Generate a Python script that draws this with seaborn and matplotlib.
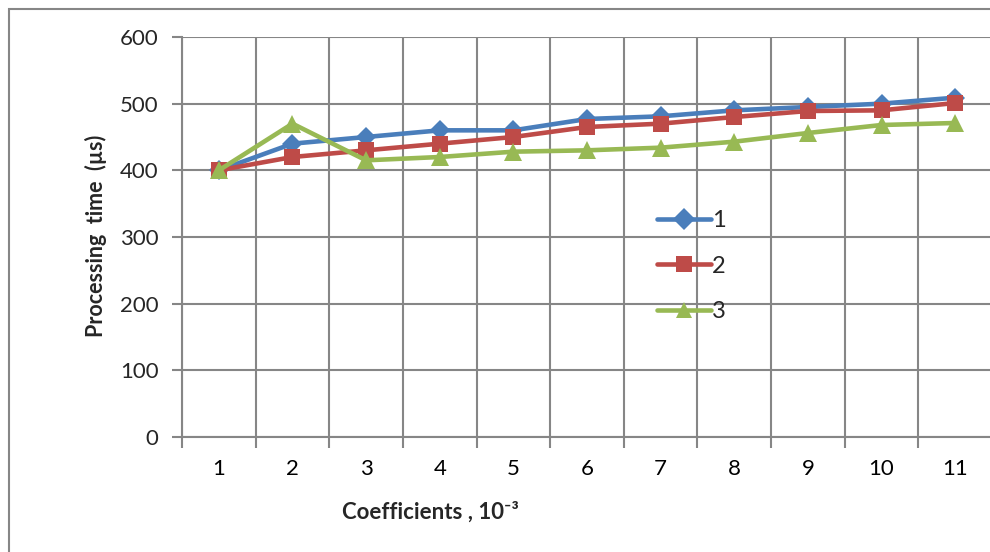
import matplotlib
matplotlib.use("Agg")
import matplotlib.pyplot as plt
import seaborn as sns
import pandas as pd
from matplotlib.patches import Rectangle

coefficients = [1, 2, 3, 4, 5, 6, 7, 8, 9, 10, 11]
series_1 = [400, 440, 450, 460, 460, 477, 481, 490, 495, 500, 509]
series_2 = [400, 420, 430, 440, 450, 465, 470, 480, 489, 490, 501]
series_3 = [400, 470, 415, 420, 428, 430, 434, 443, 456, 468, 471]
series_names = ["1", "2", "3"]
y_ticks = [0, 100, 200, 300, 400, 500, 600]

sns.set_theme(style="white")
plt.rcParams["font.family"] = ["Lato", "DejaVu Sans"]

rows = []
for name, vals in zip(series_names, [series_1, series_2, series_3]):
    for c, v in zip(coefficients, vals):
        rows.append({"coef": c, "time": v, "series": name})
df = pd.DataFrame(rows)

W, H = 990, 552
fig = plt.figure(figsize=(W / 100, H / 100), dpi=100)
fig.patch.set_facecolor("white")

# outer frame
fig.patches.append(Rectangle((9 / W, -0.1), 1.2, 1 - 9 / H + 0.1, transform=fig.transFigure,
                             fill=False, edgecolor="#868686", linewidth=1.5, zorder=0))

ax = fig.add_axes([182 / W, (H - 437) / H, 810 / W, 400 / H])
ax.set_facecolor("none")

palette = {"1": "#4A7EBB", "2": "#BE4B48", "3": "#98B954"}
markers = {"1": "D", "2": "s", "3": "^"}
sns.lineplot(data=df, x="coef", y="time", hue="series", style="series",
             markers=markers, dashes=False, palette=palette, ax=ax,
             linewidth=3.3, markersize=11, markeredgewidth=0, zorder=3)
for line, ms in zip(ax.get_lines()[:3], [10, 11, 13]):
    line.set_markersize(ms)

ax.set_xlim(0.5, 11.5)
ax.set_ylim(0, 600)
ax.set_xticks(coefficients)
ax.set_xticklabels([str(c) for c in coefficients])
ax.set_xticks([c + 0.5 for c in [0] + coefficients], minor=True)
ax.set_yticks(y_ticks)
ax.set_yticklabels([str(t) for t in y_ticks])

ax.tick_params(axis="x", which="major", length=0, labelsize=16, pad=16, colors="black")
ax.tick_params(axis="x", which="minor", length=8, width=1.5, color="#868686", direction="out", bottom=True)
ax.tick_params(axis="y", which="major", length=7, width=1.5, color="#868686", direction="out", left=True,
               labelsize=16, pad=10)

ax.grid(False)
ax.grid(True, axis="x", which="minor", color="#868686", linewidth=1.5)
ax.grid(True, axis="y", which="major", color="#868686", linewidth=1.5)
ax.set_axisbelow(True)

for s in ["top", "right"]:
    ax.spines[s].set_visible(False)
for s in ["left", "bottom"]:
    ax.spines[s].set_color("#868686")
    ax.spines[s].set_linewidth(1.5)

ax.set_xlabel("Coefficients , 10\u207b\u00b3", fontsize=16, fontweight="bold")
ax.set_ylabel("Processing  time  (\u00b5s)", fontsize=15.5, fontweight="bold")
ax.xaxis.set_label_coords((430 - 182) / 810, -(501 - 437) / 400)
ax.yaxis.set_label_coords(-(182 - 107) / 810, (437 - 236) / 400)

handles, labels = ax.get_legend_handles_labels()
leg = ax.legend(handles, labels, loc="upper left", bbox_to_anchor=(645 / W, 1 - 198 / H),
                bbox_transform=fig.transFigure, frameon=False, fontsize=17,
                handlelength=2.3, labelspacing=1.05, handletextpad=0.05, borderpad=0)

fig.savefig("out.png", dpi=100)
